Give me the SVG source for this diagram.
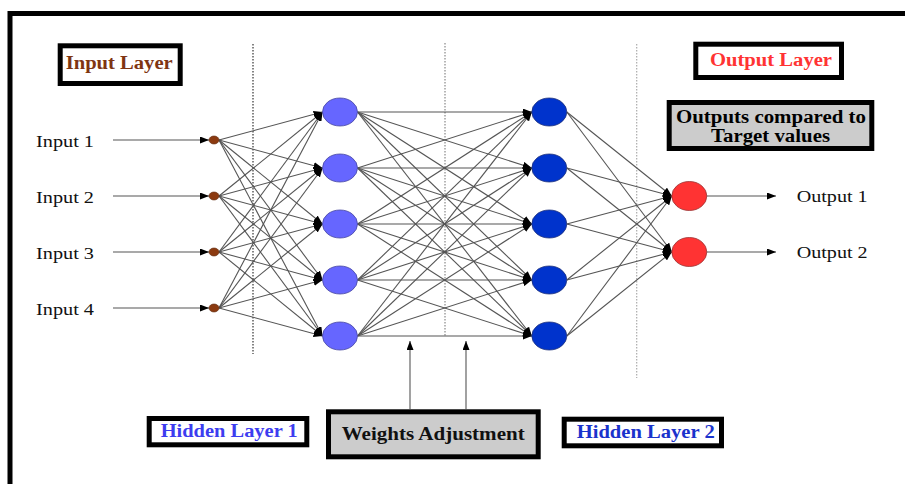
<svg xmlns="http://www.w3.org/2000/svg" width="905" height="484" viewBox="0 0 905 484">
<defs>
<marker id="ah" markerUnits="userSpaceOnUse" markerWidth="9" markerHeight="7" refX="9" refY="3.5" orient="auto">
<path d="M0,0 L9,3.5 L0,7 z" fill="#000"/>
</marker>
<style>
.box{stroke:#000;stroke-width:5;fill:#fff}
.gbox{stroke:#000;stroke-width:5;fill:#cccccc}
.lbl{font-family:"Liberation Serif","Times New Roman",serif;font-weight:bold;font-size:18px}
.io{font-family:"Liberation Serif","Times New Roman",serif;font-size:17.5px;fill:#111}
.c{stroke:#555;stroke-width:1.1;fill:none;marker-end:url(#ah)}
.h1{fill:#6666ff;stroke:#4a4aa0;stroke-width:0.8}
.h2{fill:#0033cc;stroke:#22337a;stroke-width:0.8}
.on{fill:#ff3333;stroke:#993333;stroke-width:0.8}
.in{fill:#8b3a10;stroke:#5a2508;stroke-width:0.6}
</style>
</defs>
<rect width="905" height="484" fill="#fff"/>
<path d="M10,484 V13.5 H905" fill="none" stroke="#000" stroke-width="5"/>
<g id="dividers" fill="none">
<line x1="253" y1="44" x2="253" y2="354" stroke="#333" stroke-width="1.2" stroke-dasharray="1.5,1.5"/>
<line x1="445" y1="43" x2="445" y2="336" stroke="#888" stroke-width="1.2" stroke-dasharray="1.5,1.5"/>
<line x1="636.7" y1="44" x2="636.7" y2="378" stroke="#aaa" stroke-width="1.2" stroke-dasharray="1.5,1.5"/>
</g>
<g id="connectors">
<line class="c" x1="113" y1="140" x2="209" y2="140"/>
<line class="c" x1="113" y1="196" x2="209" y2="196"/>
<line class="c" x1="113" y1="252" x2="209" y2="252"/>
<line class="c" x1="113" y1="308" x2="209" y2="308"/>
<path class="c" d="M219,140 L322.5,112"/><path class="c" d="M219,140 L322.5,168"/><path class="c" d="M219,140 L322.5,224"/><path class="c" d="M219,140 L322.5,280"/><path class="c" d="M219,140 L322.5,336"/>
<path class="c" d="M219,196 L322.5,112"/><path class="c" d="M219,196 L322.5,168"/><path class="c" d="M219,196 L322.5,224"/><path class="c" d="M219,196 L322.5,280"/><path class="c" d="M219,196 L322.5,336"/>
<path class="c" d="M219,252 L322.5,112"/><path class="c" d="M219,252 L322.5,168"/><path class="c" d="M219,252 L322.5,224"/><path class="c" d="M219,252 L322.5,280"/><path class="c" d="M219,252 L322.5,336"/>
<path class="c" d="M219,308 L322.5,112"/><path class="c" d="M219,308 L322.5,168"/><path class="c" d="M219,308 L322.5,224"/><path class="c" d="M219,308 L322.5,280"/><path class="c" d="M219,308 L322.5,336"/>
<path class="c" d="M357.5,112 L531.8,112"/><path class="c" d="M357.5,112 L531.8,168"/><path class="c" d="M357.5,112 L531.8,224"/><path class="c" d="M357.5,112 L531.8,280"/><path class="c" d="M357.5,112 L531.8,336"/>
<path class="c" d="M357.5,168 L531.8,112"/><path class="c" d="M357.5,168 L531.8,168"/><path class="c" d="M357.5,168 L531.8,224"/><path class="c" d="M357.5,168 L531.8,280"/><path class="c" d="M357.5,168 L531.8,336"/>
<path class="c" d="M357.5,224 L531.8,112"/><path class="c" d="M357.5,224 L531.8,168"/><path class="c" d="M357.5,224 L531.8,224"/><path class="c" d="M357.5,224 L531.8,280"/><path class="c" d="M357.5,224 L531.8,336"/>
<path class="c" d="M357.5,280 L531.8,112"/><path class="c" d="M357.5,280 L531.8,168"/><path class="c" d="M357.5,280 L531.8,224"/><path class="c" d="M357.5,280 L531.8,280"/><path class="c" d="M357.5,280 L531.8,336"/>
<path class="c" d="M357.5,336 L531.8,112"/><path class="c" d="M357.5,336 L531.8,168"/><path class="c" d="M357.5,336 L531.8,224"/><path class="c" d="M357.5,336 L531.8,280"/><path class="c" d="M357.5,336 L531.8,336"/>
<path class="c" d="M566.8,112 L671.8,196"/><path class="c" d="M566.8,112 L671.8,252"/>
<path class="c" d="M566.8,168 L671.8,196"/><path class="c" d="M566.8,168 L671.8,252"/>
<path class="c" d="M566.8,224 L671.8,196"/><path class="c" d="M566.8,224 L671.8,252"/>
<path class="c" d="M566.8,280 L671.8,196"/><path class="c" d="M566.8,280 L671.8,252"/>
<path class="c" d="M566.8,336 L671.8,196"/><path class="c" d="M566.8,336 L671.8,252"/>
<line class="c" x1="707" y1="196" x2="776" y2="196"/>
<line class="c" x1="707" y1="252" x2="776" y2="252"/>
<line class="c" x1="410" y1="409" x2="410" y2="341"/>
<line class="c" x1="466" y1="409" x2="466" y2="341"/>
</g>
<g id="input-labels">
<text class="io" x="36" y="146.5" textLength="58" lengthAdjust="spacingAndGlyphs">Input 1</text>
<text class="io" x="36" y="202.5" textLength="58" lengthAdjust="spacingAndGlyphs">Input 2</text>
<text class="io" x="36" y="258.5" textLength="58" lengthAdjust="spacingAndGlyphs">Input 3</text>
<text class="io" x="36" y="314.5" textLength="58" lengthAdjust="spacingAndGlyphs">Input 4</text>
</g>
<g id="in1"><ellipse class="in" cx="214" cy="140" rx="5" ry="4"/></g>
<g id="in2"><ellipse class="in" cx="214" cy="196" rx="5" ry="4"/></g>
<g id="in3"><ellipse class="in" cx="214" cy="252" rx="5" ry="4"/></g>
<g id="in4"><ellipse class="in" cx="214" cy="308" rx="5" ry="4"/></g>
<g id="h1a"><ellipse class="h1" cx="340" cy="112" rx="17.5" ry="14"/></g>
<g id="h1b"><ellipse class="h1" cx="340" cy="168" rx="17.5" ry="14"/></g>
<g id="h1c"><ellipse class="h1" cx="340" cy="224" rx="17.5" ry="14"/></g>
<g id="h1d"><ellipse class="h1" cx="340" cy="280" rx="17.5" ry="14"/></g>
<g id="h1e"><ellipse class="h1" cx="340" cy="336" rx="17.5" ry="14"/></g>
<g id="h2a"><ellipse class="h2" cx="549.3" cy="112" rx="17.5" ry="14"/></g>
<g id="h2b"><ellipse class="h2" cx="549.3" cy="168" rx="17.5" ry="14"/></g>
<g id="h2c"><ellipse class="h2" cx="549.3" cy="224" rx="17.5" ry="14"/></g>
<g id="h2d"><ellipse class="h2" cx="549.3" cy="280" rx="17.5" ry="14"/></g>
<g id="h2e"><ellipse class="h2" cx="549.3" cy="336" rx="17.5" ry="14"/></g>
<g id="out1"><ellipse class="on" cx="689.3" cy="196" rx="17.5" ry="14.5"/><text class="io" x="796.7" y="201.7" textLength="71" lengthAdjust="spacingAndGlyphs">Output 1</text></g>
<g id="out2"><ellipse class="on" cx="689.3" cy="252" rx="17.5" ry="14.5"/><text class="io" x="796.7" y="257.7" textLength="71" lengthAdjust="spacingAndGlyphs">Output 2</text></g>
<g id="input-layer"><rect class="box" x="60.2" y="45.8" width="120" height="37.7"/><text class="lbl" x="65.7" y="69" fill="#7f3512" textLength="107" lengthAdjust="spacingAndGlyphs">Input Layer</text></g>
<g id="output-layer"><rect class="box" x="695.8" y="44.2" width="145.7" height="33.3"/><text class="lbl" x="710" y="66" fill="#ff3333" textLength="122" lengthAdjust="spacingAndGlyphs">Output Layer</text></g>
<g id="outputs-compared"><rect class="gbox" x="669.2" y="102.5" width="202.6" height="46"/><text class="lbl" x="676" y="123.3" fill="#000" textLength="190" lengthAdjust="spacingAndGlyphs">Outputs compared to</text><text class="lbl" x="711" y="141.7" fill="#000" textLength="119" lengthAdjust="spacingAndGlyphs">Target values</text></g>
<g id="hidden-layer-1"><rect class="box" x="149.2" y="418.5" width="157.6" height="26.3"/><text class="lbl" x="160.7" y="437" fill="#3d3df0" textLength="137" lengthAdjust="spacingAndGlyphs">Hidden Layer 1</text></g>
<g id="weights-adjustment"><rect class="gbox" x="328.5" y="411.8" width="209.7" height="45"/><text class="lbl" x="341.7" y="440" fill="#111" textLength="183" lengthAdjust="spacingAndGlyphs">Weights Adjustment</text></g>
<g id="hidden-layer-2"><rect class="box" x="564.2" y="419.2" width="157.3" height="26.6"/><text class="lbl" x="576.7" y="437.5" fill="#1a33cc" textLength="138" lengthAdjust="spacingAndGlyphs">Hidden Layer 2</text></g>
</svg>
